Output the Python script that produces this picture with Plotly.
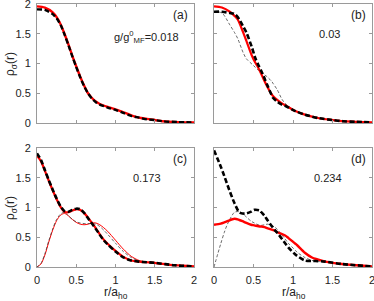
import plotly.graph_objects as go

# ---- data ----
r_a = [0, 0.1, 0.2, 0.25, 0.3, 0.35, 0.4, 0.45, 0.5, 0.55, 0.6, 0.65, 0.7, 0.75, 0.8, 0.9, 1.0, 1.1, 1.2, 1.3, 1.4, 1.5, 1.6, 1.8, 2.0]
a_red = [1.96, 1.94, 1.86, 1.78, 1.66, 1.50, 1.32, 1.13, 0.95, 0.78, 0.63, 0.50, 0.42, 0.36, 0.32, 0.27, 0.23, 0.18, 0.13, 0.09, 0.07, 0.05, 0.03, 0.015, 0.01]
a_black = [1.91, 1.90, 1.83, 1.76, 1.65, 1.49, 1.31, 1.12, 0.94, 0.77, 0.62, 0.50, 0.41, 0.35, 0.31, 0.26, 0.22, 0.17, 0.12, 0.09, 0.06, 0.05, 0.03, 0.015, 0.01]

r_b = [0, 0.1, 0.2, 0.26, 0.3, 0.37, 0.41, 0.48, 0.52, 0.56, 0.6, 0.63, 0.67, 0.73, 0.75, 0.8, 0.86, 0.9, 1.03, 1.15, 1.33, 1.5, 1.63, 1.8, 2.0]
b_red = [1.96, 1.94, 1.87, 1.80, 1.74, 1.52, 1.38, 1.13, 1.02, 0.93, 0.82, 0.73, 0.62, 0.48, 0.45, 0.39, 0.33, 0.30, 0.20, 0.14, 0.08, 0.05, 0.03, 0.02, 0.01]
b_black = [1.87, 1.87, 1.85, 1.83, 1.78, 1.62, 1.52, 1.27, 1.10, 0.98, 0.87, 0.78, 0.65, 0.47, 0.42, 0.36, 0.31, 0.29, 0.20, 0.14, 0.08, 0.05, 0.03, 0.02, 0.01]
b_thin = [1.87, 1.85, 1.65, 1.52, 1.42, 1.18, 1.08, 0.99, 0.94, 0.89, 0.86, 0.82, 0.78, 0.70, 0.66, 0.56, 0.40, 0.33, 0.20, 0.14, 0.08, 0.05, 0.03, 0.02, 0.01]

r_c = [0, 0.05, 0.1, 0.15, 0.2, 0.25, 0.3, 0.35, 0.4, 0.45, 0.5, 0.55, 0.6, 0.65, 0.7, 0.75, 0.8, 0.85, 0.9, 1.0, 1.1, 1.2, 1.3, 1.4, 1.5, 1.75, 2.0]
c_red = [1.87, 1.78, 1.62, 1.45, 1.29, 1.14, 1.01, 0.93, 0.92, 0.95, 0.97, 0.96, 0.91, 0.83, 0.74, 0.65, 0.55, 0.46, 0.39, 0.27, 0.17, 0.11, 0.09, 0.08, 0.07, 0.03, 0.01]
c_black = [1.91, 1.80, 1.63, 1.46, 1.30, 1.15, 1.02, 0.94, 0.93, 0.96, 0.98, 0.97, 0.91, 0.82, 0.73, 0.64, 0.54, 0.45, 0.38, 0.26, 0.16, 0.11, 0.09, 0.08, 0.07, 0.03, 0.01]
c_red_thin = [0, 0.05, 0.2, 0.42, 0.62, 0.78, 0.87, 0.90, 0.86, 0.80, 0.75, 0.72, 0.71, 0.72, 0.74, 0.74, 0.71, 0.66, 0.60, 0.45, 0.30, 0.18, 0.11, 0.08, 0.06, 0.03, 0.01]
c_black_thin = [0, 0.06, 0.22, 0.44, 0.64, 0.80, 0.89, 0.92, 0.86, 0.80, 0.76, 0.74, 0.73, 0.73, 0.73, 0.72, 0.68, 0.62, 0.55, 0.40, 0.26, 0.16, 0.10, 0.08, 0.06, 0.03, 0.01]

r_d = [0, 0.085, 0.13, 0.17, 0.26, 0.32, 0.36, 0.41, 0.47, 0.51, 0.58, 0.6, 0.64, 0.68, 0.77, 0.81, 0.9, 0.94, 1.03, 1.05, 1.15, 1.24, 1.28, 1.41, 1.62, 2.0]
d_red = [0.71, 0.73, 0.75, 0.77, 0.81, 0.79, 0.77, 0.74, 0.71, 0.70, 0.68, 0.68, 0.67, 0.65, 0.61, 0.58, 0.53, 0.49, 0.39, 0.37, 0.24, 0.16, 0.14, 0.09, 0.05, 0.01]
d_black = [1.96, 1.69, 1.53, 1.38, 1.07, 0.92, 0.90, 0.90, 0.93, 0.96, 0.95, 0.92, 0.86, 0.78, 0.62, 0.56, 0.40, 0.33, 0.21, 0.19, 0.11, 0.10, 0.10, 0.09, 0.05, 0.01]
d_thin = [0, 0.39, 0.58, 0.72, 0.92, 0.93, 0.90, 0.84, 0.77, 0.74, 0.70, 0.70, 0.71, 0.72, 0.67, 0.62, 0.47, 0.40, 0.28, 0.25, 0.16, 0.11, 0.10, 0.08, 0.05, 0.01]

panel_labels = ["(a)", "(b)", "(c)", "(d)"]
g_labels = ["g/g<sup>0</sup><sub>MF</sub>=0.018", "0.03", "0.173", "0.234"]
ticks = [0, 0.5, 1, 1.5, 2]
tick_text = ["0", "0.5", "1", "1.5", "2"]

RED = "#ff0000"
BLACK = "#000000"
THICK_DASH = "5px,2.5px"
THIN_DASH = "3px,2px"

fig = go.Figure()

def add(x, y, ax, color, width, dash=None):
    fig.add_trace(go.Scatter(x=x, y=y, mode="lines", xaxis="x" + ax, yaxis="y" + ax,
                             line=dict(color=color, width=width, dash=dash, shape="spline", smoothing=0.8),
                             showlegend=False, hoverinfo="skip", cliponaxis=True))

# (a)
add(r_a, a_red, "", RED, 2.4)
add(r_a, a_black, "", BLACK, 2.4, THICK_DASH)
# (b)
add(r_b, b_thin, "2", "#444444", 0.8, THIN_DASH)
add(r_b, b_red, "2", RED, 2.2)
add(r_b, b_black, "2", BLACK, 2.6, THICK_DASH)
# (c)
add(r_c, c_red_thin, "3", RED, 1.0)
add(r_c, c_black_thin, "3", "#444444", 0.8, THIN_DASH)
add(r_c, c_red, "3", RED, 2.2)
add(r_c, c_black, "3", BLACK, 2.6, THICK_DASH)
# (d)
add(r_d, d_thin, "4", "#444444", 0.8, THIN_DASH)
add(r_d, d_red, "4", RED, 2.4)
add(r_d, d_black, "4", BLACK, 2.6, THICK_DASH)

W, H = 374, 301
xd_left = [37 / W, 194 / W]
xd_right = [214 / W, 372 / W]
yd_top = [(H - 123) / H, (H - 4) / H]
yd_bot = [(H - 267) / H, (H - 148) / H]

font = dict(family="Liberation Sans, Arial, sans-serif", size=11, color="#222222")
common = dict(range=[0, 2], showgrid=False, zeroline=False, showline=True, mirror="ticks",
              linecolor="#9a9a9a", linewidth=1, ticks="inside", ticklen=3, tickcolor="#9a9a9a",
              tickvals=ticks, ticktext=tick_text, tickfont=font, fixedrange=True, automargin=False,
              ticklabeloverflow="allow")

def ax(domain, anchor, labels, standoff):
    return dict(common, domain=domain, anchor=anchor, showticklabels=labels, ticklabelstandoff=standoff)

fig.update_layout(
    width=W, height=H, margin=dict(l=0, r=0, t=0, b=0, autoexpand=False),
    paper_bgcolor="white", plot_bgcolor="white", font=font,
    xaxis=ax(xd_left, "y", False, 3), yaxis=ax(yd_top, "x", True, 3),
    xaxis2=ax(xd_right, "y2", False, 3), yaxis2=ax(yd_top, "x2", False, 3),
    xaxis3=ax(xd_left, "y3", True, 3), yaxis3=ax(yd_bot, "x3", True, 3),
    xaxis4=ax(xd_right, "y4", True, 3), yaxis4=ax(yd_bot, "x4", False, 3),
)

def note(text, xp, yp, size, angle=0):
    return dict(text=text, x=xp / W, y=1 - yp / H, xref="paper", yref="paper",
                xanchor="center", yanchor="middle", textangle=angle, showarrow=False,
                font=dict(family=font["family"], size=size, color="#222"))

ann = []
for lab, xp, yp in zip(panel_labels, [180, 358, 180, 358], [15, 15, 159, 159]):
    ann.append(note(lab, xp, yp, 12))
for lab, xp, yp in zip(g_labels, [146, 329, 147, 328], [37, 34, 178, 178]):
    ann.append(note(lab, xp, yp, 11))
for yp in [64, 208]:
    ann.append(note("ρ<sub>σ</sub>(r)", 11, yp, 12, -90))
for xp in [116, 294]:
    ann.append(note("r/a<sub>ho</sub>", xp, 292.5, 12))
fig.update_layout(annotations=ann)

fig.write_html("out.html", config={"displayModeBar": False},
               post_script="document.body.style.margin='0';document.body.style.overflow='hidden';")
